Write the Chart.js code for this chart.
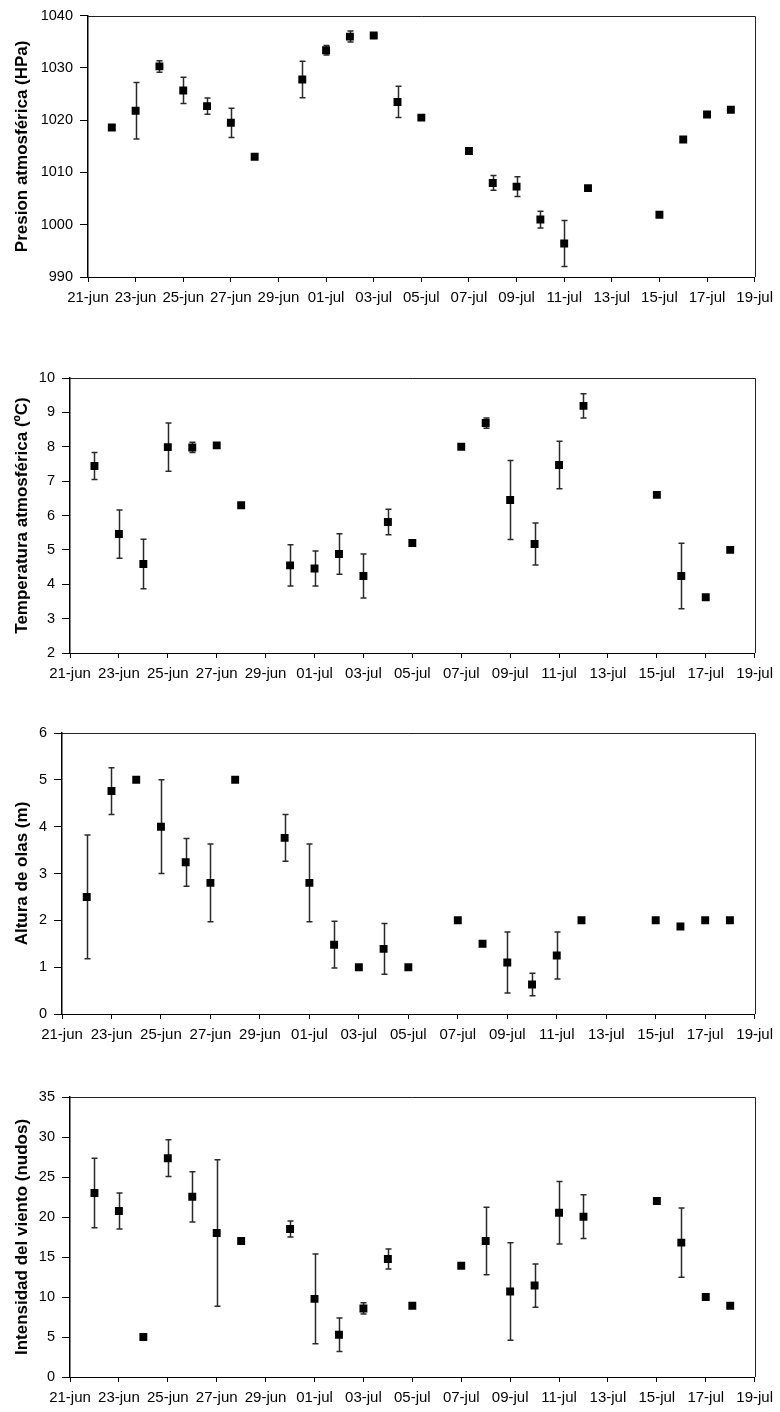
<!DOCTYPE html>
<html>
<head>
<meta charset="utf-8">
<script src="https://cdn.jsdelivr.net/npm/chart.js@4.4.1/dist/chart.umd.min.js"></script>
<style>
  body { margin: 0; background: #fff; }
  canvas { position: absolute; left: 0; }
</style>
</head>
<body>
<canvas id="c1" width="780" height="312" style="top:0px"></canvas>
<canvas id="c2" width="780" height="348" style="top:340px"></canvas>
<canvas id="c3" width="780" height="349" style="top:700px"></canvas>
<canvas id="c4" width="780" height="352" style="top:1060px"></canvas>
<script>
// etiquetas del eje x (cada 2 dias)
var etiquetasX = ['21-jun','23-jun','25-jun','27-jun','29-jun','01-jul','03-jul','05-jul',
                  '07-jul','09-jul','11-jul','13-jul','15-jul','17-jul','19-jul']

// dias con medidas (iguales en los cuatro graficos)
var fechas = ['22-jun','23-jun','24-jun','25-jun','26-jun','27-jun','28-jun','30-jun',
              '01-jul','02-jul','03-jul','04-jul','05-jul','07-jul','08-jul','09-jul',
              '10-jul','11-jul','12-jul','15-jul','16-jul','17-jul','18-jul']

// presion atmosferica (HPa)
var presion = [1018.6, 1021.8, 1030.3, 1025.7, 1022.7, 1019.5, 1013.0, 1027.8,
               1033.4, 1036.0, 1036.2, 1023.5, 1020.5, 1014.1, 1008.0, 1007.3,
               1001.0, 996.4, 1007.0, 1001.9, 1016.3, 1021.1, 1022.0]
var presionErr = [0.4, 5.4, 1.1, 2.5, 1.55, 2.8, 0, 3.5,
                  0.9, 1.05, 0.3, 3.0, 0, 0, 1.4, 1.9,
                  1.6, 4.4, 0, 0, 0, 0, 0]

// temperatura atmosferica (ºC)
var temperatura = [7.44, 5.46, 4.59, 7.99, 7.98, 8.04, 6.3, 4.55,
                   4.46, 4.88, 4.24, 5.81, 5.2, 8.0, 8.69, 6.45,
                   5.17, 7.47, 9.19, 6.6, 4.24, 3.62, 5.0]
var temperaturaErr = [0.39, 0.7, 0.72, 0.7, 0.15, 0, 0, 0.6,
                      0.51, 0.59, 0.64, 0.37, 0, 0, 0.15, 1.15,
                      0.61, 0.69, 0.35, 0, 0.95, 0, 0]

// altura de olas (m)
var olas = [2.5, 4.76, 5.0, 4.0, 3.24, 2.8, 5.0, 3.76,
            2.8, 1.48, 1.0, 1.39, 1.0, 2.0, 1.5, 1.1,
            0.63, 1.25, 2.0, 2.0, 1.87, 2.0, 2.0]
var olasErr = [1.32, 0.5, 0, 1.0, 0.51, 0.83, 0, 0.5,
               0.83, 0.5, 0, 0.54, 0, 0, 0, 0.65,
               0.24, 0.5, 0, 0, 0, 0, 0]

// intensidad del viento (nudos)
var viento = [23.0, 20.74, 5.0, 27.35, 22.53, 18.0, 17.0, 18.5,
              9.77, 5.28, 8.57, 14.76, 8.9, 13.9, 17.0, 10.69,
              11.43, 20.54, 20.04, 22.0, 16.8, 10.0, 8.9]
var vientoErr = [4.34, 2.25, 0, 2.3, 3.14, 9.16, 0, 1.0,
                 5.6, 2.1, 0.7, 1.25, 0, 0, 4.22, 6.1,
                 2.7, 3.9, 2.74, 0, 4.32, 0, 0]

var fuente = "'Liberation Sans', Arial, sans-serif"

// dias desde el 21-jun
function dia(f) {
  var partes = f.split('-')
  return partes[1] == 'jun' ? +partes[0] - 21 : +partes[0] + 9
}

// barras de error, debajo de los puntos
var barrasError = {
  id: 'barrasError',
  beforeDatasetsDraw: function(chart) {
    var ctx = chart.ctx
    var x = chart.scales.x, y = chart.scales.y
    var ds = chart.data.datasets[0]
    ctx.save()
    ctx.strokeStyle = '#2a2a2a'
    ctx.lineWidth = 1.5
    ds.data.forEach(function(p, i) {
      var e = ds.errores[i]
      if (!e) return
      var px = Math.round(x.getPixelForValue(p.x)) + 0.5
      var y1 = y.getPixelForValue(p.y + e)
      var y2 = y.getPixelForValue(p.y - e)
      ctx.beginPath()
      ctx.moveTo(px, y1); ctx.lineTo(px, y2)
      ctx.moveTo(px - 3, y1); ctx.lineTo(px + 3, y1)
      ctx.moveTo(px - 3, y2); ctx.lineTo(px + 3, y2)
      ctx.stroke()
    })
    ctx.restore()
  }
}

// lineas superior y derecha del marco
var marco = {
  id: 'marco',
  afterDraw: function(chart) {
    var a = chart.chartArea, ctx = chart.ctx
    ctx.save()
    ctx.strokeStyle = '#222'
    ctx.lineWidth = 1
    ctx.beginPath()
    ctx.moveTo(a.left, Math.round(a.top) + 0.5)
    ctx.lineTo(Math.round(a.right) + 0.5, Math.round(a.top) + 0.5)
    ctx.lineTo(Math.round(a.right) + 0.5, a.bottom)
    ctx.stroke()
    ctx.restore()
  }
}

function panel(id, valores, errores, yMin, yMax, paso, titulo, anchoY, arriba) {
  new Chart(document.getElementById(id), {
    type: 'scatter',
    data: {
      datasets: [{
        data: fechas.map(function(f, i) { return { x: dia(f), y: valores[i] } }),
        errores: errores,
        pointStyle: 'rect',
        pointRadius: 5.6,
        pointBorderWidth: 0,
        backgroundColor: '#000',
        borderColor: '#000',
        showLine: false
      }]
    },
    options: {
      responsive: false,
      animation: false,
      devicePixelRatio: 1,
      layout: { padding: { top: arriba, right: 21, left: 0, bottom: 0 } },
      plugins: { legend: { display: false }, tooltip: { enabled: false } },
      scales: {
        x: {
          type: 'linear', min: 0, max: 28,
          afterFit: function(s) { s.height = 35 },
          border: { display: true, color: '#000', width: 1 },
          grid: { drawOnChartArea: false, drawTicks: true, tickLength: 5, color: '#000' },
          ticks: {
            stepSize: 2, autoSkip: false, maxRotation: 0, minRotation: 0, padding: 7,
            color: '#000', font: { family: fuente, size: 15 },
            callback: function(v, i) { return etiquetasX[i] }
          }
        },
        y: {
          min: yMin, max: yMax,
          afterFit: function(s) { s.width = anchoY },
          border: { display: true, color: '#000', width: 1.5 },
          grid: { drawOnChartArea: false, drawTicks: true, tickLength: 8, color: '#000' },
          ticks: {
            stepSize: paso, padding: 7, color: '#000',
            font: { family: fuente, size: 14.5 },
            callback: function(v) { return String(v) }
          },
          title: {
            display: true, text: titulo, color: '#000',
            font: { family: fuente, size: 17, weight: 'bold' },
            padding: { top: 12, bottom: 0 }
          }
        }
      }
    },
    plugins: [barrasError, marco]
  })
}

panel('c1', presion, presionErr, 990, 1040, 10, 'Presion atmosférica (HPa)', 88, 13)
panel('c2', temperatura, temperaturaErr, 2, 10, 1, 'Temperatura atmosférica (ºC)', 70, 38)
panel('c3', olas, olasErr, 0, 6, 1, 'Altura de olas (m)', 62, 33)
panel('c4', viento, vientoErr, 0, 35, 5, 'Intensidad del viento (nudos)', 70, 37)
</script>
</body>
</html>
